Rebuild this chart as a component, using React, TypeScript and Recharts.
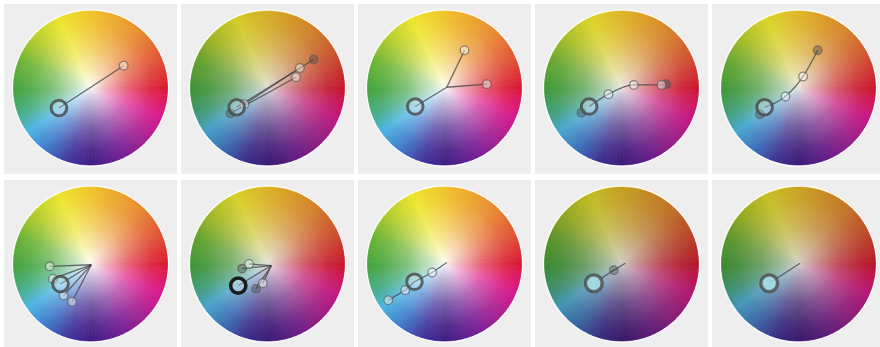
import { PieChart, Pie, Cell, ComposedChart, Line, Scatter, XAxis, YAxis } from "recharts";

type Pt = { x: number; y: number };

// hue wheel: angle (deg, counter-clockwise from 3 o'clock) -> colour
const hueAngles = [0, 25, 50, 72, 92, 115, 138, 160, 182, 200, 215, 235, 255, 272, 292, 315, 337, 352, 360];
const hueColors = [
  "#d9122b", "#e0522e", "#e8892a", "#eca824", "#f0c424", "#ede526", "#b4cc24", "#66b12f", "#3fa23a",
  "#3faa80", "#45b2e2", "#3873c8", "#3b2a98", "#3c157f", "#671890", "#a0198f", "#d6128a", "#df1056", "#d9122b",
];

// points, in wheel units (centre 0,0, rim 1)
const w1Path = [{ x: -0.41, y: -0.26 }, { x: 0.43, y: 0.29 }];
const w1Big = [{ x: -0.41, y: -0.26 }];
const w1Light = [{ x: 0.43, y: 0.29 }];

const w2PathA = [{ x: -0.4, y: -0.25 }, { x: 0.6, y: 0.37 }];
const w2PathB = [{ x: -0.3, y: -0.21 }, { x: 0.42, y: 0.26 }];
const w2PathC = [{ x: -0.48, y: -0.33 }, { x: 0.37, y: 0.14 }];
const w2Big = [{ x: -0.4, y: -0.25 }];
const w2Light = [{ x: -0.3, y: -0.21 }, { x: 0.42, y: 0.26 }, { x: 0.37, y: 0.14 }];
const w2Dark = [{ x: -0.48, y: -0.33 }, { x: 0.6, y: 0.37 }];

const w3Hub = { x: 0.03, y: 0.01 };
const w3Big = [{ x: -0.38, y: -0.24 }];
const w3Light = [{ x: 0.26, y: 0.49 }, { x: 0.55, y: 0.05 }];

const w4Path = [{ x: -0.42, y: -0.24 }, { x: -0.17, y: -0.08 }, { x: 0.16, y: 0.04 }, { x: 0.52, y: 0.04 }, { x: 0.58, y: 0.05 }];
const w4Big = [{ x: -0.42, y: -0.24 }];
const w4Light = [{ x: -0.17, y: -0.08 }, { x: 0.16, y: 0.04 }, { x: 0.52, y: 0.04 }];
const w4Dark = [{ x: -0.52, y: -0.32 }, { x: 0.58, y: 0.05 }];

const w5Path = [{ x: -0.44, y: -0.25 }, { x: -0.17, y: -0.11 }, { x: 0.06, y: 0.15 }, { x: 0.25, y: 0.49 }];
const w5Big = [{ x: -0.44, y: -0.25 }];
const w5Light = [{ x: -0.17, y: -0.11 }, { x: 0.06, y: 0.15 }];
const w5Dark = [{ x: -0.5, y: -0.34 }, { x: 0.25, y: 0.49 }];

const w6Apex = { x: 0.01, y: -0.01 };
const w6Big = [{ x: -0.39, y: -0.26 }];
const w6Light = [{ x: -0.53, y: -0.03 }, { x: -0.49, y: -0.19 }, { x: -0.35, y: -0.41 }, { x: -0.24, y: -0.49 }];

const w7Apex = { x: 0.05, y: -0.02 };
const w7Big = [{ x: -0.38, y: -0.28 }];
const w7Light = [{ x: -0.24, y: 0.0 }, { x: -0.06, y: -0.25 }];
const w7Dark = [{ x: -0.33, y: -0.06 }, { x: -0.15, y: -0.32 }];

const w8Path = [{ x: 0.03, y: 0.02 }, { x: -0.16, y: -0.11 }, { x: -0.39, y: -0.23 }, { x: -0.51, y: -0.34 }, { x: -0.73, y: -0.47 }];
const w8Big = [{ x: -0.39, y: -0.23 }];
const w8Light = [{ x: -0.16, y: -0.11 }, { x: -0.51, y: -0.34 }, { x: -0.73, y: -0.47 }];

const w9Path = [{ x: 0.05, y: 0.01 }, { x: -0.1, y: -0.08 }, { x: -0.36, y: -0.25 }];
const w9Big = [{ x: -0.36, y: -0.25 }];
const w9Dark = [{ x: -0.1, y: -0.08 }];

const w10Path = [{ x: 0.02, y: 0.01 }, { x: -0.38, y: -0.25 }];
const w10Big = [{ x: -0.38, y: -0.25 }];

type Panel = {
  lines: Pt[][];
  big: Pt[];
  light: Pt[];
  dark: Pt[];
  curve: "linear" | "monotone";
  shade: number;
  bigStyle: "normal" | "black" | "cyan";
};

const panels: Panel[] = [
  { lines: [w1Path], big: w1Big, light: w1Light, dark: [], curve: "linear", shade: 0, bigStyle: "normal" },
  { lines: [w2PathA, w2PathB, w2PathC], big: w2Big, light: w2Light, dark: w2Dark, curve: "linear", shade: 0.12, bigStyle: "normal" },
  { lines: [[w3Big[0], w3Hub], ...w3Light.map((p) => [w3Hub, p])], big: w3Big, light: w3Light, dark: [], curve: "linear", shade: 0, bigStyle: "normal" },
  { lines: [w4Path], big: w4Big, light: w4Light, dark: w4Dark, curve: "monotone", shade: 0.08, bigStyle: "normal" },
  { lines: [w5Path], big: w5Big, light: w5Light, dark: w5Dark, curve: "monotone", shade: 0.08, bigStyle: "normal" },
  { lines: [...w6Light, ...w6Big].map((p) => [w6Apex, p]), big: w6Big, light: w6Light, dark: [], curve: "linear", shade: 0, bigStyle: "normal" },
  { lines: [...w7Light, ...w7Dark, ...w7Big].map((p) => [w7Apex, p]), big: w7Big, light: w7Light, dark: w7Dark, curve: "linear", shade: 0.1, bigStyle: "black" },
  { lines: [w8Path], big: w8Big, light: w8Light, dark: [], curve: "linear", shade: 0, bigStyle: "normal" },
  { lines: [w9Path], big: w9Big, light: [], dark: w9Dark, curve: "linear", shade: 0.2, bigStyle: "cyan" },
  { lines: [w10Path], big: w10Big, light: [], dark: [], curve: "linear", shade: 0.18, bigStyle: "cyan" },
];

const W = 173;
const H = 170;
const CX = 86.5;
const CY = 84;
const R = 77;
const lefts = [4, 181, 358, 535, 712];
const tops = [4, 180];

const hex = (h: string) => [1, 3, 5].map((i) => parseInt(h.slice(i, i + 2), 16));

function hueAt(a: number) {
  let i = 0;
  while (i < hueAngles.length - 2 && a > hueAngles[i + 1]) i++;
  const t = (a - hueAngles[i]) / (hueAngles[i + 1] - hueAngles[i]);
  const c0 = hex(hueColors[i]);
  const c1 = hex(hueColors[i + 1]);
  const c = c0.map((v, k) => Math.round(v + (c1[k] - v) * t));
  return `rgb(${c[0]},${c[1]},${c[2]})`;
}

const SLICES = 180;
const slices = Array.from({ length: SLICES }, (_, i) => ({ value: 1, color: hueAt(((i + 0.5) * 360) / SLICES) }));
const one = [{ value: 1 }];

const LightDot = (p: any) => (
  <circle cx={p.cx} cy={p.cy} r={4.3} fill="rgba(255,255,255,0.45)" stroke="#5e5e5e" strokeOpacity={0.7} strokeWidth={1.3} />
);
const DarkDot = (p: any) => (
  <circle cx={p.cx} cy={p.cy} r={4.3} fill="rgba(60,60,60,0.35)" stroke="#5e5e5e" strokeOpacity={0.7} strokeWidth={1.3} />
);
const BigDot = (p: any) => (
  <circle cx={p.cx} cy={p.cy} r={7.8} fill="rgba(255,255,255,0.25)" stroke="#474747" strokeOpacity={0.8} strokeWidth={3} />
);
const BlackDot = (p: any) => (
  <circle cx={p.cx} cy={p.cy} r={7.6} fill="rgba(255,255,255,0.3)" stroke="#1c1c1c" strokeWidth={3.6} />
);
const CyanDot = (p: any) => (
  <circle cx={p.cx} cy={p.cy} r={8.4} fill="#a6dce6" fillOpacity={0.9} stroke="#4c4c4c" strokeOpacity={0.8} strokeWidth={3.4} />
);

function Wheel({ panel }: { panel: Panel }) {
  const bigShape = panel.bigStyle === "black" ? BlackDot : panel.bigStyle === "cyan" ? CyanDot : BigDot;
  return (
    <div style={{ position: "relative", width: W, height: H, background: "#eeeeee" }}>
      <div style={{ position: "absolute", left: 0, top: 0 }}>
        <PieChart width={W} height={H} margin={{ top: 0, right: 0, bottom: 0, left: 0 }}>
          <Pie data={one} dataKey="value" cx={CX} cy={CY} innerRadius={R - 1} outerRadius={R + 1.6} stroke="none" isAnimationActive={false}>
            <Cell fill="#ffffff" />
          </Pie>
          <Pie data={slices} dataKey="value" cx={CX} cy={CY} outerRadius={R} startAngle={0} endAngle={360} stroke="none" isAnimationActive={false}>
            {slices.map((s, i) => (
              <Cell key={i} fill={s.color} stroke={s.color} strokeWidth={0.7} />
            ))}
          </Pie>
          <Pie data={one} dataKey="value" cx={CX} cy={CY} outerRadius={R} stroke="none" isAnimationActive={false}>
            <Cell fill="url(#wheelGlow)" />
          </Pie>
          {panel.shade > 0 && (
            <Pie data={one} dataKey="value" cx={CX} cy={CY} outerRadius={R} stroke="none" isAnimationActive={false}>
              <Cell fill="#1a1200" fillOpacity={panel.shade} />
            </Pie>
          )}
        </PieChart>
      </div>
      <div style={{ position: "absolute", left: 0, top: 0 }}>
        <ComposedChart width={W} height={H} margin={{ top: CY - R, bottom: H - CY - R, left: CX - R, right: W - CX - R }}>
          <XAxis type="number" dataKey="x" domain={[-1, 1]} hide allowDataOverflow />
          <YAxis type="number" dataKey="y" domain={[-1, 1]} hide allowDataOverflow />
          {panel.lines.map((d, i) => (
            <Line
              key={i}
              data={d}
              dataKey="y"
              type={panel.curve}
              stroke="#404040"
              strokeOpacity={0.75}
              strokeWidth={1.3}
              dot={false}
              activeDot={false}
              isAnimationActive={false}
            />
          ))}
          <Scatter data={panel.dark} shape={DarkDot} isAnimationActive={false} />
          <Scatter data={panel.light} shape={LightDot} isAnimationActive={false} />
          <Scatter data={panel.big} shape={bigShape} isAnimationActive={false} />
        </ComposedChart>
      </div>
    </div>
  );
}

export default function App() {
  return (
    <div style={{ position: "absolute", left: 0, top: 0, width: 880, height: 347, background: "#ffffff", overflow: "hidden" }}>
      <svg width={0} height={0} style={{ position: "absolute" }}>
        <defs>
          <radialGradient id="wheelGlow" cx="50%" cy="50%" r="50%">
            <stop offset="0%" stopColor="#ffffff" stopOpacity={0.95} />
            <stop offset="20%" stopColor="#ffffff" stopOpacity={0.68} />
            <stop offset="50%" stopColor="#ffffff" stopOpacity={0.32} />
            <stop offset="80%" stopColor="#ffffff" stopOpacity={0.1} />
            <stop offset="100%" stopColor="#ffffff" stopOpacity={0.02} />
          </radialGradient>
        </defs>
      </svg>
      {panels.map((p, i) => (
        <div key={i} style={{ position: "absolute", left: lefts[i % 5], top: tops[Math.floor(i / 5)] }}>
          <Wheel panel={p} />
        </div>
      ))}
    </div>
  );
}
